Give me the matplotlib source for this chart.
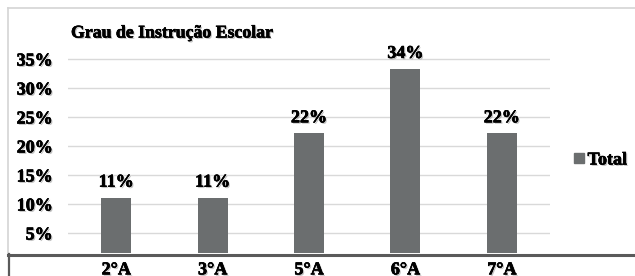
import matplotlib
matplotlib.use("Agg")
import matplotlib.pyplot as plt
import matplotlib.patheffects as pe
from matplotlib.lines import Line2D
from matplotlib.ticker import FuncFormatter

# data
turmas = ["2°A", "3°A", "5°A", "6°A", "7°A"]
total = [0.111, 0.111, 0.222, 0.333, 0.222]
rotulos = ["11%", "11%", "22%", "34%", "22%"]
yticks = [0.05, 0.10, 0.15, 0.20, 0.25, 0.30, 0.35]

W, H = 635, 276
bar_color = "#6b6e6f"
shadow = [pe.withSimplePatchShadow(offset=(1, -1), shadow_rgbFace="#777777", alpha=0.45),
          pe.Stroke(linewidth=0.4, foreground="black"), pe.Normal()]

plt.rcParams["font.family"] = ["Liberation Serif", "DejaVu Serif"]
plt.rcParams["font.weight"] = "bold"

fig = plt.figure(figsize=(W / 100, H / 100), dpi=100)

# plot area in pixels: x 68..550, y 50..253
ax = fig.add_axes([68 / W, (H - 253) / H, 482 / W, 203 / H])
x = range(len(turmas))
bars = ax.bar(x, total, width=0.31, color=bar_color, zorder=2, label="Total")

ax.set_xlim(-0.5, len(turmas) - 0.5)
ax.set_ylim(0.0155, 0.3655)
ax.set_yticks(yticks)
ax.yaxis.set_major_formatter(FuncFormatter(lambda v, p: "%d%%" % round(v * 100)))
ax.grid(True, axis="y", color="#d9d9d9", lw=1, zorder=0)
ax.set_xticks(list(x))
ax.set_xticklabels(turmas)
ax.tick_params(axis="y", length=0, pad=11, labelsize=13)
ax.tick_params(axis="x", length=0, pad=6, labelsize=13)
for lab in ax.get_xticklabels() + ax.get_yticklabels():
    lab.set_fontweight("bold")
    lab.set_path_effects(shadow)
for s in ax.spines.values():
    s.set_visible(False)

for b, txt in zip(bars, rotulos):
    ax.annotate(txt, (b.get_x() + b.get_width() / 2, b.get_height()),
                xytext=(0, 5), textcoords="offset points", ha="center", va="bottom",
                fontsize=13, fontweight="bold", path_effects=shadow)

fig.text(71 / W, 1 - 33 / H, "Grau de Instrução Escolar", fontsize=12.8,
         fontweight="bold", va="center", ha="left", path_effects=shadow)

leg = fig.legend(handles=[Line2D([], [], ls="", marker="s", markersize=7.5, color=bar_color)],
                 labels=["Total"], loc="center left", bbox_to_anchor=(565 / W, 1 - 160 / H),
                 frameon=False, handlelength=0.6, handletextpad=0.15, borderpad=0,
                 prop={"weight": "bold", "size": 13})
for t in leg.get_texts():
    t.set_path_effects(shadow)

# outer chart border (light) and the dark table lines at the bottom
def px(xp, yp):
    return xp / W, 1 - yp / H

fig.add_artist(Line2D(*zip(px(8, 8), px(W, 8)), color="#d4d4d4", lw=1.2))
fig.add_artist(Line2D(*zip(px(8, 8), px(8, 253)), color="#d4d4d4", lw=1.2))
fig.add_artist(Line2D(*zip(px(8, 254.5), px(W, 254.5)), color="#5a5a5a", lw=2.2))
fig.add_artist(Line2D(*zip(px(8.5, 254), px(8.5, H)), color="#5a5a5a", lw=1.6))

fig.savefig("out.png", dpi=100)
